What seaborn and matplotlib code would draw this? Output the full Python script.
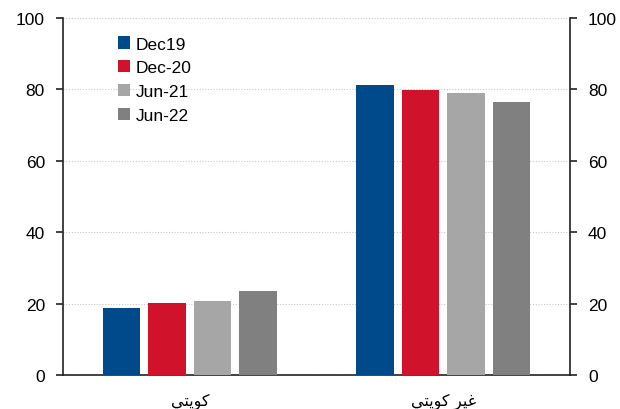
import matplotlib
matplotlib.use("Agg")
import matplotlib.pyplot as plt
import seaborn as sns
import pandas as pd
from matplotlib.ticker import FixedLocator

# Arabic labels pre-shaped (presentation forms, visual order) since matplotlib has no shaping
categories = ["\uFEF2\uFE98\uFEF3\uFEEE\uFEDB",                      # كويتي
              "\uFEF2\uFE98\uFEF3\uFEEE\uFEDB \uFEAE\uFEF4\uFECF"]   # غير كويتي
series = ["Dec19", "Dec-20", "Jun-21", "Jun-22"]
kuwaiti = [18.8, 20.2, 20.7, 23.5]
non_kuwaiti = [81.3, 79.9, 79.1, 76.6]
colors = ["#004A8C", "#D0132B", "#A6A6A6", "#808080"]
yticks = [0, 20, 40, 60, 80, 100]

rows = []
for s, a, b in zip(series, kuwaiti, non_kuwaiti):
    rows.append({"cat": categories[0], "series": s, "value": a})
    rows.append({"cat": categories[1], "series": s, "value": b})
df = pd.DataFrame(rows)

sns.set_style("white")
plt.rcParams["font.family"] = ["Liberation Sans", "DejaVu Sans"]
plt.rcParams["text.color"] = "black"
plt.rcParams["xtick.color"] = "#222222"
plt.rcParams["ytick.color"] = "#222222"
plt.rcParams["xtick.labelcolor"] = "black"
plt.rcParams["ytick.labelcolor"] = "black"

fig = plt.figure(figsize=(6.2, 4.1), dpi=100)
ax = fig.add_axes([63/620, 1-376/410, (570-63)/620, (376-19)/410])

sns.barplot(data=df, x="cat", y="value", hue="series", order=categories,
            hue_order=series, palette=colors, width=0.72, gap=0.18,
            saturation=1, ax=ax, errorbar=None, zorder=3, linewidth=0)

ax.set_xlim(-0.5, 1.5)
ax.set_ylim(0, 100)
ax.set_yticks(yticks)
ax.set_xlabel("")
ax.set_ylabel("")
ax.grid(axis="y", color="#c8c8c8", linestyle=(0, (1, 1.5)), linewidth=0.8, zorder=0)
ax.set_axisbelow(True)

for side in ["left", "right", "top", "bottom"]:
    ax.spines[side].set_visible(False)
ax.spines["left"].set_visible(True)
ax.spines["bottom"].set_visible(True)
ax.spines["left"].set_linewidth(1.2)
ax.spines["bottom"].set_linewidth(1.2)
ax.spines["left"].set_color("#222222")
ax.spines["bottom"].set_color("#222222")

ax.tick_params(axis="y", which="major", direction="out", length=5, width=1.2,
               color="#222222", labelcolor="black", pad=8, labelsize=12.5)
ax.tick_params(axis="x", which="major", length=0, pad=13, labelsize=11.5, labelcolor="black")
ax.xaxis.set_minor_locator(FixedLocator([-0.5, 0.5, 1.5]))
ax.tick_params(axis="x", which="minor", direction="out", length=5, width=1.2, color="#222222")

ax2 = ax.twinx()
ax2.set_ylim(0, 100)
ax2.set_yticks(yticks)
for side in ["left", "top", "bottom"]:
    ax2.spines[side].set_visible(False)
ax2.spines["right"].set_linewidth(1.2)
ax2.spines["right"].set_color("#222222")
ax2.tick_params(axis="y", direction="out", length=5, width=1.2, color="#222222",
                labelcolor="black", pad=8, labelsize=12.5)

leg = ax.legend(loc="upper left", bbox_to_anchor=(0.095, 0.968), frameon=False,
                fontsize=12.5, handlelength=0.7, handleheight=0.7,
                handletextpad=0.3, labelspacing=0.5, borderaxespad=0)

fig.savefig("out.png", dpi=100)
